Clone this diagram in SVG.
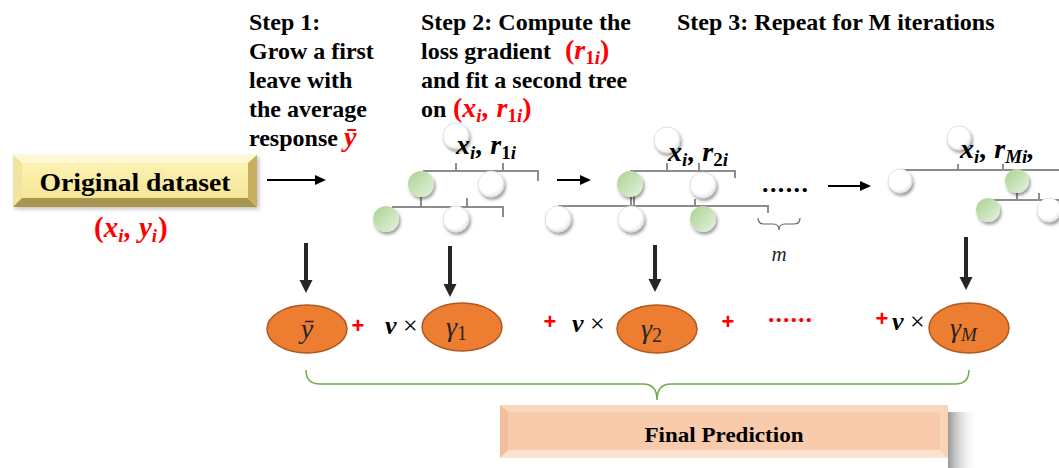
<svg xmlns="http://www.w3.org/2000/svg" width="1059" height="468" viewBox="0 0 1059 468">
<style>
.step{font-family:"Liberation Serif","Times New Roman",serif;font-weight:bold;font-size:24px;fill:#000}
.math{font-family:"Liberation Serif","DejaVu Serif",serif;font-weight:bold;font-style:italic}
.rm{font-size:28px}
.red{fill:#FF0000}
.lbl{font-family:"Liberation Serif","DejaVu Serif",serif;font-weight:bold;font-style:italic;font-size:28px;fill:#000}
.sub{font-size:19px}
.up{font-style:normal}
.tl{stroke:#8C8C8C;stroke-width:2;fill:none}
.wb{fill:url(#gw);stroke:#D9D9D9;stroke-width:0.8;filter:url(#sh)}
.gb{fill:url(#gg);filter:url(#sh)}
.ell{fill:#ED7D31;stroke:#AE5A21;stroke-width:1.5}
.el{font-family:"Liberation Serif","DejaVu Serif",serif;font-style:italic;font-size:28px;fill:#262626}
.plus{font-family:"Liberation Sans",Arial,sans-serif;font-weight:bold;font-size:22px;fill:#FF0000}
.nu{font-family:"Liberation Serif","DejaVu Serif",serif;font-size:26px;fill:#000}
.ha{stroke:#000;stroke-width:2;fill:none;marker-end:url(#ah)}
.va{stroke:#262626;stroke-width:4;fill:none;marker-end:url(#av)}
</style>
<defs>
<radialGradient id="gw" cx="0.4" cy="0.35" r="0.7">
<stop offset="0" stop-color="#FFFFFF"/><stop offset="0.7" stop-color="#FFFFFF"/><stop offset="1" stop-color="#E2E2E2"/>
</radialGradient>
<linearGradient id="gg" x1="0" y1="0" x2="1" y2="1">
<stop offset="0" stop-color="#A9D291"/><stop offset="1" stop-color="#E6F2DE"/>
</linearGradient>
<filter id="sh" x="-40%" y="-40%" width="190%" height="190%">
<feDropShadow dx="1.5" dy="2.5" stdDeviation="1.8" flood-color="#000" flood-opacity="0.4"/>
</filter>
<filter id="bs" x="-10%" y="-20%" width="120%" height="150%">
<feDropShadow dx="2" dy="2" stdDeviation="2" flood-color="#000" flood-opacity="0.25"/>
</filter>
<linearGradient id="fsh" x1="0" y1="0" x2="1" y2="0">
<stop offset="0" stop-color="#8C8C8C" stop-opacity="0.9"/><stop offset="1" stop-color="#FFFFFF" stop-opacity="0"/>
</linearGradient>
<linearGradient id="oface" x1="0" y1="0" x2="0" y2="1">
<stop offset="0" stop-color="#FCF1B2"/><stop offset="1" stop-color="#F6E697"/>
</linearGradient>
<marker id="ah" markerUnits="userSpaceOnUse" markerWidth="12" markerHeight="10" refX="0" refY="5" orient="auto">
<path d="M0,0 L11,5 L0,10 z" fill="#000"/>
</marker>
<marker id="av" markerUnits="userSpaceOnUse" markerWidth="14" markerHeight="14" refX="0" refY="6.5" orient="auto">
<path d="M0,0 L13,6.5 L0,13 z" fill="#262626"/>
</marker>
</defs>
<rect width="1059" height="468" fill="#FFFFFF"/>

<!-- step texts -->
<g id="step1">
<text class="step" x="249" y="30">Step 1:</text>
<text class="step" x="249" y="59">Grow a first</text>
<text class="step" x="249" y="88">leave with</text>
<text class="step" x="249" y="117">the average</text>
<text class="step" x="249" y="146">response <tspan class="math red rm" x="344">ȳ</tspan></text>
</g>
<g id="step2">
<text class="step" x="421" y="30">Step 2: Compute the</text>
<text class="step" x="421" y="59">loss  gradient <tspan class="red rm" x="565">(</tspan><tspan class="math red rm">r</tspan><tspan class="red up sub" dy="5">1</tspan><tspan class="math red sub">i</tspan><tspan class="red rm" dy="-5">)</tspan></text>
<text class="step" x="421" y="88">and fit a second tree</text>
<text class="step" x="421" y="117">on <tspan class="red rm" x="453">(</tspan><tspan class="math red rm">x</tspan><tspan class="math red sub" dy="5">i</tspan><tspan class="math red rm" dy="-5" dx="1">, r</tspan><tspan class="red up sub" dy="5">1</tspan><tspan class="math red sub">i</tspan><tspan class="red rm" dy="-5">)</tspan></text>
</g>
<g id="step3">
<text class="step" x="677" y="30">Step 3: Repeat for M iterations</text>
</g>

<!-- original dataset -->
<g id="original">
<g filter="url(#bs)">
<rect x="13" y="155" width="244" height="52" fill="#F8E9A0"/>
<polygon points="13,155 257,155 248,163 22,163" fill="#FFF8D2"/>
<polygon points="13,155 22,163 22,198 13,207" fill="#F3E3A0"/>
<polygon points="13,207 22,198 248,198 257,207" fill="#A8954F"/>
<polygon points="257,155 257,207 248,198 248,163" fill="#C6B060"/>
<rect x="22" y="163" width="226" height="35" fill="url(#oface)"/>
</g>
<text x="135" y="191" text-anchor="middle" textLength="191" lengthAdjust="spacingAndGlyphs" style="font-family:'Liberation Serif',serif;font-weight:bold;font-size:26px">Original dataset</text>
<text x="94" y="237" class="red" style="font-family:'Liberation Serif',serif;font-weight:bold;font-size:29px">(<tspan class="math">x</tspan><tspan class="math sub" dy="5">i</tspan><tspan class="math" dy="-5" dx="1">, y</tspan><tspan class="math sub" dy="5">i</tspan><tspan dy="-5" dx="1">)</tspan></text>
</g>

<!-- tree 1 -->
<g id="tree1">
<circle class="wb" cx="456" cy="136" r="13"/>
<text class="lbl" x="456" y="154">x<tspan class="sub" dy="5">i</tspan><tspan dy="-5" dx="1">, r</tspan><tspan class="sub up" dy="5">1</tspan><tspan class="sub">i</tspan></text>
<path class="tl" d="M423,171 H538 V181 M456,171 V163 M503,171 V163"/>
<path class="tl" d="M392,207 H503 V217 M421,197 V207 M467,207 V198"/>
<circle class="gb" cx="421" cy="184" r="13"/>
<circle class="wb" cx="491" cy="184" r="13"/>
<circle class="gb" cx="386" cy="219" r="13"/>
<circle class="wb" cx="456" cy="219" r="13"/>
</g>

<!-- tree 2 -->
<g id="tree2">
<circle class="wb" cx="667" cy="140" r="13"/>
<text class="lbl" x="668" y="161">x<tspan class="sub" dy="5">i</tspan><tspan dy="-5" dx="1">, r</tspan><tspan class="sub up" dy="5">2</tspan><tspan class="sub">i</tspan></text>
<path class="tl" d="M630,171 H735 V178 M667,171 V163 M699,171 V163"/>
<path class="tl" d="M558,206 H768 V213 M631,195 V206 M634,195 V206 M695,206 V199"/>
<circle class="gb" cx="630" cy="184" r="13"/>
<circle class="wb" cx="703" cy="185" r="13"/>
<circle class="wb" cx="558" cy="219" r="13"/>
<circle class="wb" cx="631" cy="219" r="13"/>
<circle class="gb" cx="703" cy="219" r="13"/>
</g>

<g id="ellipsis-trees">
<text x="762" y="192" textLength="46" lengthAdjust="spacing" style="font-family:'Liberation Serif',serif;font-weight:bold;font-size:26px">......</text>
<path d="M758,218 q0,6 6,6 h9 q6,0 6,6 q0,-6 6,-6 h9 q6,0 6,-6" fill="none" stroke="#666" stroke-width="1.2"/>
<text x="779" y="261" text-anchor="middle" style="font-family:'Liberation Serif','DejaVu Serif',serif;font-style:italic;font-size:21px;fill:#262626">m</text>
</g>

<!-- tree 3 -->
<g id="tree3">
<circle class="wb" cx="959" cy="138" r="12"/>
<text class="lbl" x="960" y="158">x<tspan class="sub" dy="5">i</tspan><tspan dy="-5" dx="1">, r</tspan><tspan class="sub" dy="5">Mi</tspan><tspan dy="-5">,</tspan></text>
<path class="tl" d="M903,170 H1059 M958,170 V164 M1003,170 V164"/>
<path class="tl" d="M987,200 H1059 M1017,190 V200 M1039,200 V193"/>
<circle class="wb" cx="900" cy="181" r="12"/>
<circle class="gb" cx="1017" cy="181" r="12"/>
<circle class="gb" cx="988" cy="210" r="12"/>
<circle class="wb" cx="1049" cy="210" r="12"/>
</g>

<!-- connectors -->
<g id="connectors">
<line class="ha" x1="267" y1="180" x2="315" y2="180"/>
<line class="ha" x1="557" y1="180" x2="580" y2="180"/>
<line class="ha" x1="828" y1="186" x2="860" y2="186"/>
<line class="va" x1="306" y1="243" x2="306" y2="280"/>
<line class="va" x1="450" y1="246" x2="450" y2="284"/>
<line class="va" x1="655" y1="245" x2="655" y2="279"/>
<line class="va" x1="966" y1="237" x2="966" y2="277"/>
<path d="M306,370 q0,14 14,14 H643 q14,0 14,16 q0,-16 14,-16 H955 q14,0 14,-14" fill="none" stroke="#70AD47" stroke-width="1.5"/>
</g>

<!-- sum terms -->
<g id="term0">
<ellipse class="ell" cx="307" cy="329" rx="40" ry="24"/>
<text class="el" x="307" y="338" text-anchor="middle">ȳ</text>
</g>
<text class="plus" x="358" y="333" text-anchor="middle">+</text>
<text class="nu" x="385" y="334"><tspan class="math">ν</tspan> ×</text>
<g id="term1">
<ellipse class="ell" cx="462" cy="327" rx="40" ry="24"/>
<text class="el" x="446" y="336">γ<tspan class="up" font-size="20" dy="4">1</tspan></text>
</g>
<text class="plus" x="550" y="329" text-anchor="middle">+</text>
<text class="nu" x="572" y="332"><tspan class="math">ν</tspan> ×</text>
<g id="term2">
<ellipse class="ell" cx="657" cy="329" rx="40" ry="24"/>
<text class="el" x="641" y="338">γ<tspan class="up" font-size="20" dy="4">2</tspan></text>
</g>
<text class="plus" x="728" y="329" text-anchor="middle">+</text>
<text x="768" y="322" class="red" textLength="44" lengthAdjust="spacing" style="font-family:'Liberation Serif',serif;font-weight:bold;font-size:26px">......</text>
<text class="plus" x="882" y="326" text-anchor="middle">+</text>
<text class="nu" x="892" y="330"><tspan class="math">ν</tspan> ×</text>
<g id="termM">
<ellipse class="ell" cx="969" cy="328" rx="40" ry="25"/>
<text class="el" x="950" y="337">γ<tspan font-size="19" dy="4">M</tspan></text>
</g>

<!-- final prediction -->
<g id="final">
<rect x="948" y="412" width="30" height="56" fill="url(#fsh)"/>
<rect x="500" y="405" width="448" height="53" fill="#F7CBAC"/>
<polygon points="500,405 948,405 940,412 508,412" fill="#FAD8C0"/>
<polygon points="500,405 508,412 508,450 500,458" fill="#F2BE9C"/>
<polygon points="500,458 508,450 940,450 948,458" fill="#FBE4CF"/>
<polygon points="948,405 948,458 940,450 940,412" fill="#F8D4B9"/>
<rect x="508" y="412" width="432" height="38" fill="#F7CBAC"/>
<text x="724" y="442" text-anchor="middle" textLength="159" lengthAdjust="spacingAndGlyphs" style="font-family:'Liberation Serif',serif;font-weight:bold;font-size:21px">Final Prediction</text>
</g>
</svg>
